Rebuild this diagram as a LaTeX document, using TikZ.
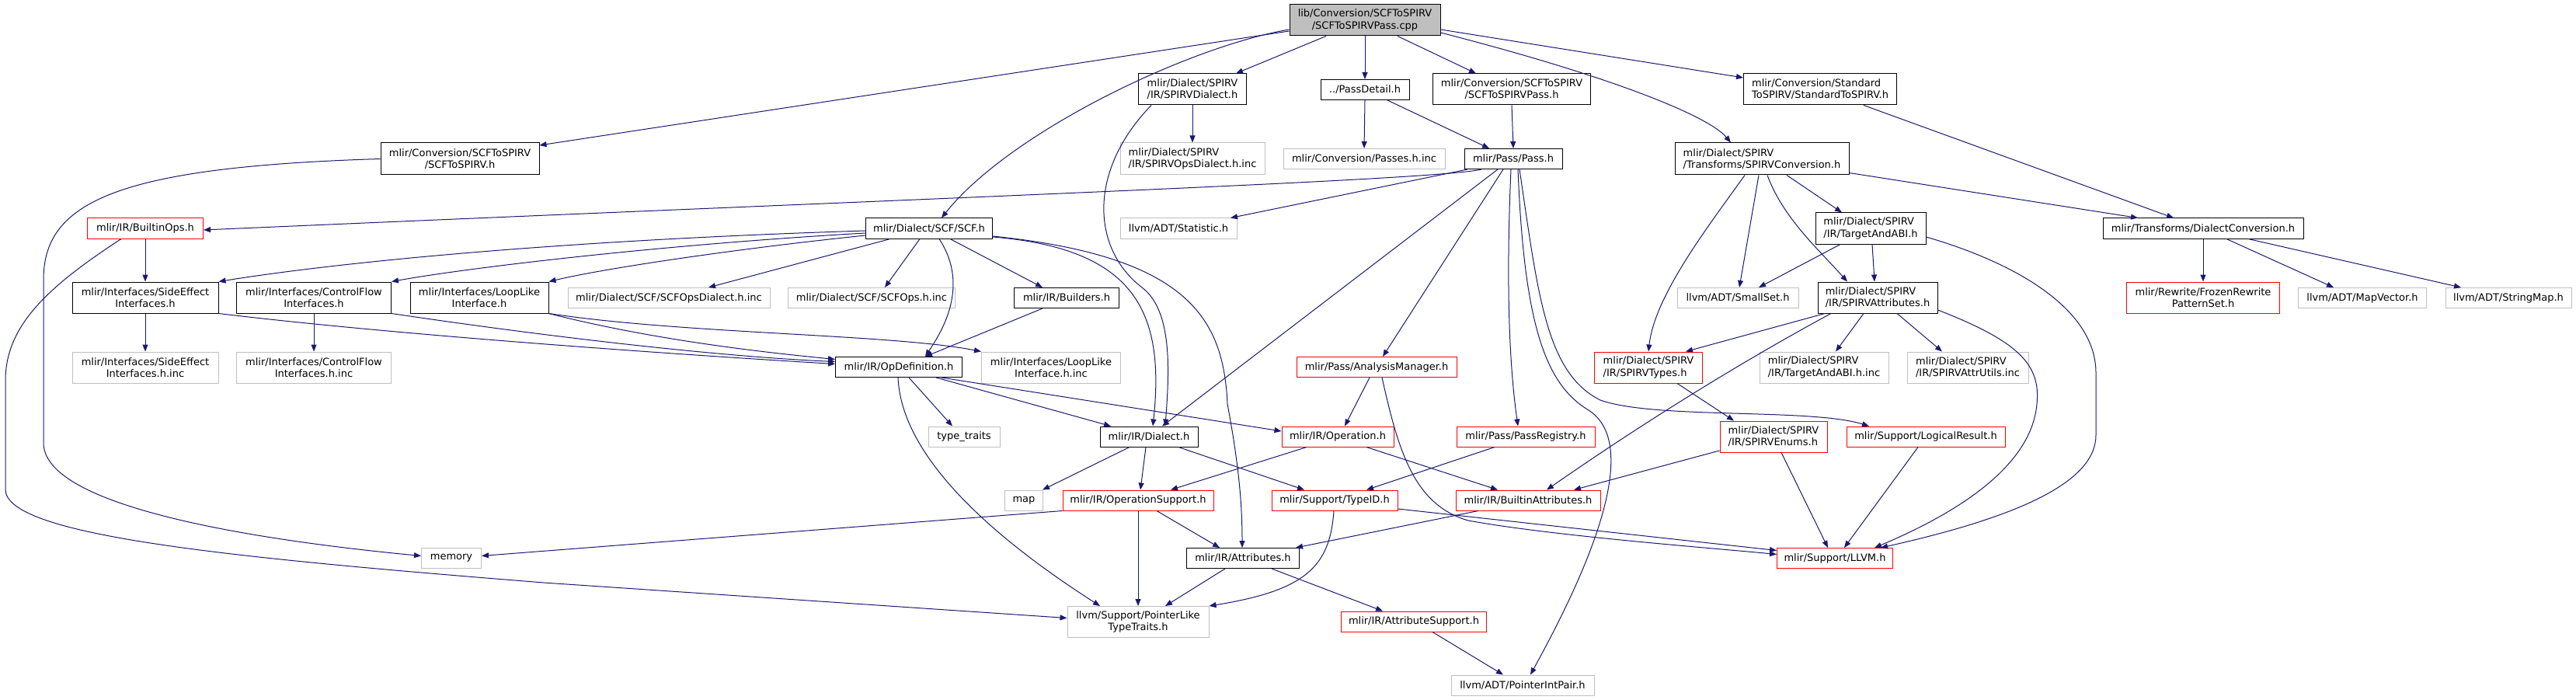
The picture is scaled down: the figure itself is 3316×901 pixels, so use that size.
\documentclass[tikz,border=0pt]{standalone}
\usepackage{fontspec}
\newfontfamily\dv{DejaVu Sans}
\usetikzlibrary{arrows.meta}
\definecolor{edgec}{HTML}{191970}
\definecolor{grayb}{HTML}{BFBFBF}
\tikzset{
  nb/.style={draw, rectangle, inner sep=0pt, line width=1pt, font=\dv\fontsize{13}{15.3}\selectfont, align=center, fill=white},
  blk/.style={nb, draw=black},
  rbox/.style={nb, draw=red},
  gbox/.style={nb, draw=grayb},
  wh/.style 2 args={minimum width=#1pt, minimum height=#2pt},
  dep/.style={draw=edgec, line width=1pt, -{Triangle[length=9pt,width=7pt]}},
}
\begin{document}
\begin{tikzpicture}[x=1pt,y=-1pt]
\useasboundingbox (0,0) rectangle (3316,901);
% nodes
\node[blk, fill=grayb, wh={194}{40}] (main) at (1757,26) {lib/Conversion/SCFToSPIRV\\/SCFToSPIRVPass.cpp};
\node[blk, wh={139}{40}, align=left] (spd) at (1535,115) {mlir/Dialect/SPIRV\\/IR/SPIRVDialect.h};
\node[blk, wh={114}{26}] (pdet) at (1757,115.5) {../PassDetail.h};
\node[blk, wh={203}{40}] (scfpass) at (1946,115) {mlir/Conversion/SCFToSPIRV\\/SCFToSPIRVPass.h};
\node[blk, wh={197}{40}, align=left] (std) at (2343,115) {mlir/Conversion/Standard\\ToSPIRV/StandardToSPIRV.h};
\node[blk, wh={204}{41}] (scfsp) at (592,204.5) {mlir/Conversion/SCFToSPIRV\\/SCFToSPIRV.h};
\node[gbox, wh={186}{41}, align=left] (spod) at (1535,204.5) {mlir/Dialect/SPIRV\\/IR/SPIRVOpsDialect.h.inc};
\node[gbox, wh={208}{26}] (passes) at (1756,204.5) {mlir/Conversion/Passes.h.inc};
\node[blk, wh={126}{26}] (pass) at (1948,204.5) {mlir/Pass/Pass.h};
\node[blk, wh={224}{41}, align=left] (conv) at (2268,204.5) {mlir/Dialect/SPIRV\\/Transforms/SPIRVConversion.h};
\node[rbox, wh={149}{26}] (bops) at (187,294) {mlir/IR/BuiltinOps.h};
\node[blk, wh={163}{26}] (scf) at (1196,294) {mlir/Dialect/SCF/SCF.h};
\node[gbox, wh={150}{26}] (stat) at (1517,294) {llvm/ADT/Statistic.h};
\node[blk, wh={142}{40}, align=left] (tabi) at (2408,294) {mlir/Dialect/SPIRV\\/IR/TargetAndABI.h};
\node[blk, wh={258}{26}] (dconv) at (2836,294) {mlir/Transforms/DialectConversion.h};
\node[blk, wh={188}{40}] (side) at (187,383) {mlir/Interfaces/SideEffect\\Interfaces.h};
\node[blk, wh={199}{40}] (ctrl) at (404,383) {mlir/Interfaces/ControlFlow\\Interfaces.h};
\node[blk, wh={178}{40}] (loop) at (617,383) {mlir/Interfaces/LoopLike\\Interface.h};
\node[gbox, wh={260}{26}] (scfod) at (861,383.5) {mlir/Dialect/SCF/SCFOpsDialect.h.inc};
\node[gbox, wh={215}{26}] (scfops) at (1122,383.5) {mlir/Dialect/SCF/SCFOps.h.inc};
\node[blk, wh={135}{26}] (build) at (1373,383.5) {mlir/IR/Builders.h};
\node[gbox, wh={156}{26}] (smallset) at (2237,383.5) {llvm/ADT/SmallSet.h};
\node[blk, wh={154}{40}, align=left] (attrs) at (2417,383) {mlir/Dialect/SPIRV\\/IR/SPIRVAttributes.h};
\node[rbox, wh={197}{40}] (frozen) at (2836,383) {mlir/Rewrite/FrozenRewrite\\PatternSet.h};
\node[gbox, wh={165}{26}] (mapv) at (3041,383.5) {llvm/ADT/MapVector.h};
\node[gbox, wh={162}{26}] (strmap) at (3229,383.5) {llvm/ADT/StringMap.h};
\node[gbox, wh={188}{40}] (sideinc) at (187,473) {mlir/Interfaces/SideEffect\\Interfaces.h.inc};
\node[gbox, wh={199}{40}] (ctrlinc) at (404,473) {mlir/Interfaces/ControlFlow\\Interfaces.h.inc};
\node[blk, wh={163}{26}] (opdef) at (1157,472.5) {mlir/IR/OpDefinition.h};
\node[gbox, wh={179}{40}] (loopinc) at (1353,473) {mlir/Interfaces/LoopLike\\Interface.h.inc};
\node[rbox, wh={206}{26}] (anal) at (1772,472.5) {mlir/Pass/AnalysisManager.h};
\node[rbox, wh={139}{40}, align=left] (types) at (2122,473) {mlir/Dialect/SPIRV\\/IR/SPIRVTypes.h};
\node[gbox, wh={166}{40}, align=left] (tabiinc) at (2348,473) {mlir/Dialect/SPIRV\\/IR/TargetAndABI.h.inc};
\node[gbox, wh={156}{40}, align=left] (utils) at (2533,473) {mlir/Dialect/SPIRV\\/IR/SPIRVAttrUtils.inc};
\node[gbox, wh={92}{26}] (ttraits) at (1241,562) {type\_traits};
\node[blk, wh={126}{26}] (dialect) at (1479,562) {mlir/IR/Dialect.h};
\node[rbox, wh={144}{26}] (oper) at (1722,562) {mlir/IR/Operation.h};
\node[rbox, wh={178}{26}] (preg) at (1964,562) {mlir/Pass/PassRegistry.h};
\node[rbox, wh={138}{40}, align=left] (enums) at (2283,562) {mlir/Dialect/SPIRV\\/IR/SPIRVEnums.h};
\node[rbox, wh={204}{26}] (lres) at (2479,562) {mlir/Support/LogicalResult.h};
\node[gbox, wh={49}{26}] (map) at (1318,644) {map};
\node[rbox, wh={194}{26}] (opsup) at (1465,644) {mlir/IR/OperationSupport.h};
\node[rbox, wh={162}{26}] (typeid) at (1718,644) {mlir/Support/TypeID.h};
\node[rbox, wh={186}{26}] (battr) at (1967,644) {mlir/IR/BuiltinAttributes.h};
\node[gbox, wh={77}{26}] (memory) at (581,718.5) {memory};
\node[blk, wh={145}{26}] (attr) at (1600,718.5) {mlir/IR/Attributes.h};
\node[rbox, wh={149}{26}] (llvm) at (2362,718.5) {mlir/Support/LLVM.h};
\node[gbox, wh={182}{40}] (ptrlike) at (1465,800.5) {llvm/Support/PointerLike\\TypeTraits.h};
\node[rbox, wh={187}{26}] (attrsup) at (1820,800) {mlir/IR/AttributeSupport.h};
\node[gbox, wh={184}{26}] (ptrint) at (1960,882) {llvm/ADT/PointerIntPair.h};
% edges from main
\draw[dep] ([yshift=-14pt]main.west) -- ([yshift=17.5pt]scfsp.east);
\draw[dep] ([yshift=-12pt]main.west) .. controls (1530,60) and (1300,170) .. ([xshift=16pt]scf.north);
\draw[dep] ([xshift=-50pt]main.south) -- ([xshift=56pt]spd.north);
\draw[dep] (main.south) -- (pdet.north);
\draw[dep] ([xshift=42pt]main.south) -- ([xshift=-46pt]scfpass.north);
\draw[dep] ([yshift=-16pt]main.east) .. controls (2080,100) and (2200,150) .. ([xshift=-40pt]conv.north);
\draw[dep] ([yshift=-12pt]main.east) -- ([yshift=15pt]std.west);
% second row
\draw[dep] (spd.south) -- (spod.north);
\draw[dep] ([xshift=-53pt]spd.south) .. controls (1400,220) and (1405,320) .. (1470,370) .. controls (1510,400) and (1505,480) .. ([xshift=21pt]dialect.north);
\draw[dep] (pdet.south) -- (passes.north);
\draw[dep] ([xshift=29pt]pdet.south) -- ([xshift=-31pt]pass.north);
\draw[dep] (scfpass.south) -- (pass.north);
\draw[dep] ([xshift=56pt]std.south) -- ([xshift=-38pt]dconv.north);
\draw[dep] (scfsp.west) .. controls (150,215) and (56,260) .. (56,360) -- (56,570) .. controls (56,660) and (380,700) .. ([yshift=3pt]memory.west);
% Pass.h
\draw[dep] ([xshift=-41pt]pass.south) .. controls (1850,232) and (1200,255) .. ([yshift=-2pt]bops.east);
\draw[dep] ([xshift=-59pt]pass.south) -- ([xshift=67pt]stat.north);
\draw[dep] ([xshift=-20pt]pass.south) -- ([xshift=17pt]dialect.north);
\draw[dep] ([xshift=-13pt]pass.south) -- ([xshift=8pt]anal.north);
\draw[dep] ([xshift=-3pt]pass.south) .. controls (1940,330) and (1940,450) .. ([xshift=-10pt]preg.north);
\draw[dep] ([xshift=6pt]pass.south) .. controls (1962,420) and (1990,495) .. (2045,528) .. controls (2095,560) and (2085,660) .. ([xshift=10pt]ptrint.north);
\draw[dep] ([xshift=8pt]pass.south) .. controls (1980,380) and (1990,480) .. (2060,515) .. controls (2130,540) and (2330,525) .. ([xshift=-73pt]lres.north);
% SCF.h
\draw[dep] ([yshift=-3pt]scf.west) .. controls (700,310) and (420,340) .. (side.north east);
\draw[dep] ([yshift=-6pt]scf.west) .. controls (850,315) and (600,345) .. (ctrl.north east);
\draw[dep] ([yshift=-9pt]scf.west) .. controls (950,320) and (780,345) .. (loop.north east);
\draw[dep] ([xshift=-50pt]scf.south) -- ([xshift=51pt]scfod.north);
\draw[dep] ([xshift=-12pt]scf.south) -- ([xshift=17pt]scfops.north);
\draw[dep] ([xshift=27pt]scf.south) -- ([xshift=-31pt]build.north);
\draw[dep] ([xshift=13pt]scf.south) .. controls (1250,370) and (1210,430) .. ([xshift=34pt]opdef.north);
\draw[dep] ([yshift=-11pt]scf.east) .. controls (1460,320) and (1500,400) .. ([xshift=5pt]dialect.north);
\draw[dep] ([yshift=-10pt]scf.east) .. controls (1530,330) and (1575,410) .. (1580,520) .. controls (1595,600) and (1599,650) .. ([xshift=-1pt]attr.north);
\draw[dep] ([xshift=-31pt]build.south) -- ([xshift=34pt]opdef.north);
% interfaces
\draw[dep] (side.south) -- (sideinc.north);
\draw[dep] (ctrl.south) -- (ctrlinc.north);
\draw[dep] (side.south east) .. controls (500,430) and (850,455) .. ([yshift=4pt]opdef.west);
\draw[dep] (ctrl.south east) .. controls (750,440) and (950,460) .. ([yshift=7pt]opdef.west);
\draw[dep] (loop.south east) .. controls (850,440) and (1000,455) .. ([yshift=10pt]opdef.west);
\draw[dep] (loop.south east) .. controls (880,430) and (1150,430) .. (loopinc.north west);
\draw[dep] (bops.south) -- (side.north);
\draw[dep] ([xshift=-31pt]bops.south) .. controls (60,370) and (7,420) .. (7,490) -- (7,630) .. controls (7,690) and (300,718) .. (700,750) -- ([yshift=5pt]ptrlike.west);
% OpDefinition
\draw[dep] ([xshift=13pt]opdef.south) -- ([xshift=-15pt]ttraits.north);
\draw[dep] ([xshift=48pt]opdef.south) -- ([xshift=-49pt]dialect.north);
\draw[dep] ([xshift=55pt]opdef.south) -- ([yshift=7pt]oper.west);
\draw[dep] ([xshift=-1pt]opdef.south) .. controls (1160,580) and (1260,680) .. ([xshift=-49pt]ptrlike.north);
% Dialect, Operation, AnalysisManager, PassRegistry
\draw[dep] ([xshift=-25pt]dialect.south) -- ([xshift=24pt]map.north);
\draw[dep] ([xshift=-4pt]dialect.south) -- ([xshift=3pt]opsup.north);
\draw[dep] ([xshift=38pt]dialect.south) -- ([xshift=-39pt]typeid.north);
\draw[dep] ([xshift=-40pt]oper.south) -- ([xshift=42pt]opsup.north);
\draw[dep] ([xshift=37pt]oper.south) -- ([xshift=-39pt]battr.north);
\draw[dep] ([xshift=-9pt]anal.south) -- ([xshift=9pt]oper.north);
\draw[dep] ([xshift=7pt]anal.south) .. controls (1800,580) and (1820,650) .. (1890,670) .. controls (2000,690) and (2200,705) .. ([yshift=5pt]llvm.west);
\draw[dep] ([xshift=-40pt]preg.south) -- ([xshift=41pt]typeid.north);
% OperationSupport, TypeID, BuiltinAttributes
\draw[dep] (opsup.south west) -- ([yshift=3pt]memory.east);
\draw[dep] (opsup.south) -- (ptrlike.north);
\draw[dep] ([xshift=24pt]opsup.south) -- ([xshift=-30pt]attr.north);
\draw[dep] ([xshift=-1pt]typeid.south) .. controls (1712,730) and (1680,760) .. (ptrlike.north east);
\draw[dep] ([yshift=-11pt]typeid.east) -- ([yshift=10pt]llvm.west);
\draw[dep] ([xshift=-64pt]battr.south) -- ([xshift=68pt]attr.north);
\draw[dep] ([xshift=-23pt]attr.south) -- ([xshift=35pt]ptrlike.north);
\draw[dep] ([xshift=37pt]attr.south) -- ([xshift=-40pt]attrsup.north);
\draw[dep] ([xshift=24pt]attrsup.south) -- ([xshift=-25pt]ptrint.north);
% SPIRV conversion
\draw[dep] ([yshift=-18pt]conv.east) -- ([xshift=-84pt]dconv.north);
\draw[dep] ([xshift=32pt]conv.south) -- ([xshift=-37pt]tabi.north);
\draw[dep] ([xshift=-4pt]conv.south) -- ([xshift=2pt]smallset.north);
\draw[dep] ([xshift=7pt]conv.south) .. controls (2295,280) and (2340,320) .. ([xshift=-39pt]attrs.north);
\draw[dep] ([xshift=-22pt]conv.south) .. controls (2200,290) and (2130,380) .. (types.north);
\draw[dep] ([xshift=-39pt]tabi.south) -- ([xshift=27pt]smallset.north);
\draw[dep] ([xshift=2pt]tabi.south) -- ([xshift=-4pt]attrs.north);
\draw[dep] ([yshift=-11pt]tabi.east) .. controls (2600,340) and (2698,400) .. (2698,480) -- (2698,560) .. controls (2698,620) and (2600,665) .. ([xshift=59pt]llvm.north);
\draw[dep] ([xshift=-68pt]attrs.south) -- ([xshift=48pt]types.north);
\draw[dep] ([xshift=-60pt]attrs.south) .. controls (2280,445) and (2150,520) .. ([xshift=24pt]battr.north);
\draw[dep] ([xshift=-18pt]attrs.south) -- ([xshift=15pt]tabiinc.north);
\draw[dep] ([xshift=25pt]attrs.south) -- ([xshift=-33pt]utils.north);
\draw[dep] ([yshift=-16pt]attrs.east) .. controls (2600,440) and (2627,470) .. (2622,520) .. controls (2615,600) and (2520,660) .. ([xshift=51pt]llvm.north);
\draw[dep] ([xshift=37pt]types.south) -- ([xshift=-51pt]enums.north);
\draw[dep] ([yshift=-18pt]enums.west) -- ([xshift=59pt]battr.north);
\draw[dep] ([xshift=10pt]enums.south) -- ([xshift=-9pt]llvm.north);
\draw[dep] ([xshift=-10pt]lres.south) -- ([xshift=12pt]llvm.north);
% DialectConversion
\draw[dep] (dconv.south) -- (frozen.north);
\draw[dep] ([xshift=30pt]dconv.south) -- ([xshift=-37pt]mapv.north);
\draw[dep] ([xshift=58pt]dconv.south) -- ([xshift=-61pt]strmap.north);
\end{tikzpicture}
\end{document}
